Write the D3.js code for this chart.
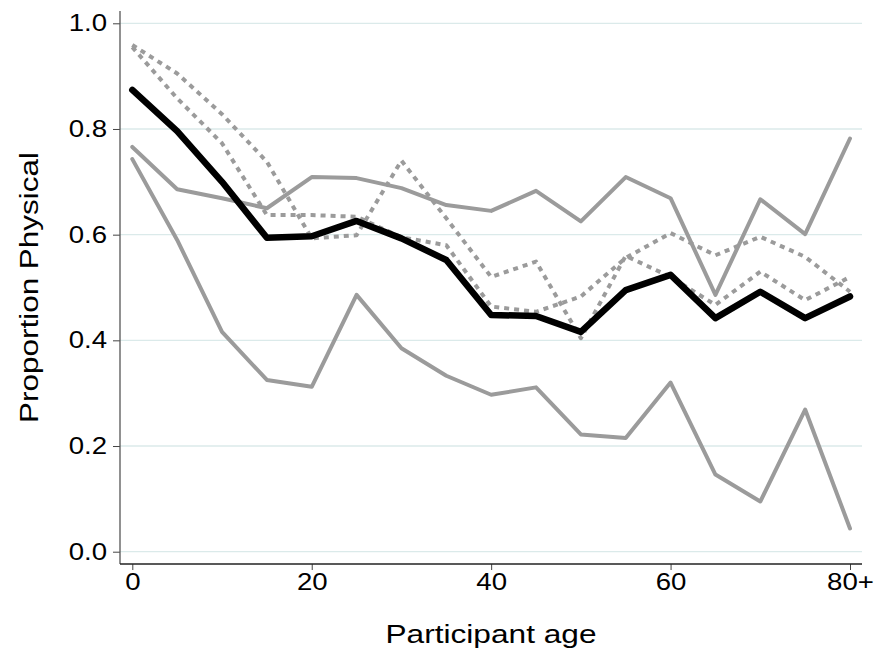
<!DOCTYPE html>
<html>
<head>
<meta charset="utf-8">
<script src="https://cdn.jsdelivr.net/npm/d3@7"></script>
<style>
  body { margin: 0; background: #fff; }
  svg { display: block; font-family: "Liberation Sans", Arial, sans-serif; }
</style>
</head>
<body>
<div id="chart"></div>
<script>
// ages (5-year groups, last one is 80+)
const ages = [0, 5, 10, 15, 20, 25, 30, 35, 40, 45, 50, 55, 60, 65, 70, 75, 80];

// overall proportion (thick black)
const overall = [0.874, 0.796, 0.700, 0.594, 0.597, 0.626, 0.593, 0.552, 0.448, 0.446, 0.416, 0.495, 0.524, 0.442, 0.492, 0.442, 0.483];
// solid grey lines
const greyHigh = [0.766, 0.686, 0.669, 0.650, 0.709, 0.707, 0.688, 0.656, 0.645, 0.683, 0.625, 0.709, 0.669, 0.486, 0.667, 0.601, 0.782];
const greyLow = [0.743, 0.590, 0.416, 0.325, 0.312, 0.486, 0.385, 0.333, 0.297, 0.311, 0.222, 0.215, 0.320, 0.146, 0.095, 0.269, 0.044];
// dashed grey lines
const dashA = [0.959, 0.905, 0.828, 0.738, 0.593, 0.599, 0.740, 0.631, 0.520, 0.549, 0.404, 0.560, 0.520, 0.467, 0.530, 0.476, 0.520];
const dashB = [0.955, 0.858, 0.773, 0.637, 0.637, 0.634, 0.595, 0.580, 0.464, 0.454, 0.483, 0.556, 0.603, 0.561, 0.596, 0.558, 0.492];

const yTicks = [0, 0.2, 0.4, 0.6, 0.8, 1.0];
const xTicks = [0, 20, 40, 60, 80];
const xTickLabels = ["0", "20", "40", "60", "80+"];

const width = 885, height = 664;
// plot box (axis lines)
const box = { left: 120, right: 862, top: 11, bottom: 564 };
// the reference text is drawn wider than plain Arial
const stretch = 1.2;

const svg = d3.select("#chart").append("svg")
    .attr("width", width)
    .attr("height", height);

const x = d3.scaleLinear().domain([0, 80]).range([132.3, 850]);
const y = d3.scaleLinear().domain([0, 1]).range([551.7, 23.3]);

// grid lines
svg.append("g")
    .selectAll("line")
    .data(yTicks)
    .join("line")
    .attr("x1", box.left)
    .attr("x2", box.right)
    .attr("y1", d => y(d))
    .attr("y2", d => y(d))
    .attr("stroke", "#dbeaea")
    .attr("stroke-width", 1.3);

// y axis
const yAxis = svg.append("g")
    .attr("transform", "translate(" + box.left + ",0)")
    .call(d3.axisLeft(y).tickValues(yTicks).tickFormat(d3.format(".1f")).tickSize(7).tickPadding(6));
yAxis.select(".domain").remove();
yAxis.selectAll("line").attr("stroke", "#444");
yAxis.selectAll("text")
    .attr("font-size", 23)
    .attr("fill", "#000")
    .attr("font-family", "Liberation Sans, Arial, sans-serif")
    .attr("x", 0)
    .attr("transform", "translate(-13,0) scale(" + stretch + ",1)");

// x axis
const xAxis = svg.append("g")
    .attr("transform", "translate(0," + box.bottom + ")")
    .call(d3.axisBottom(x).tickValues(xTicks).tickFormat((d, i) => xTickLabels[i]).tickSize(6).tickPadding(4));
xAxis.select(".domain").remove();
xAxis.selectAll("line").attr("stroke", "#444");
xAxis.selectAll("text")
    .attr("font-size", 23)
    .attr("fill", "#000")
    .attr("font-family", "Liberation Sans, Arial, sans-serif")
    .attr("transform", "scale(" + stretch + ",1)");

// axis lines
svg.append("line")
    .attr("x1", box.left).attr("x2", box.left)
    .attr("y1", box.top).attr("y2", box.bottom)
    .attr("stroke", "#555").attr("stroke-width", 1.3);
svg.append("line")
    .attr("x1", box.left).attr("x2", box.right)
    .attr("y1", box.bottom).attr("y2", box.bottom)
    .attr("stroke", "#222").attr("stroke-width", 1.3);

const line = d3.line()
    .x((d, i) => x(ages[i]))
    .y(d => y(d));

const series = [
    { values: greyHigh, color: "#9b9b9b", w: 4, dash: null },
    { values: greyLow, color: "#9b9b9b", w: 4, dash: null },
    { values: dashA, color: "#9b9b9b", w: 4, dash: "5,5" },
    { values: dashB, color: "#9b9b9b", w: 4, dash: "5,5" },
    { values: overall, color: "#000", w: 6.5, dash: null }
];

svg.append("g")
    .selectAll("path")
    .data(series)
    .join("path")
    .attr("d", d => line(d.values))
    .attr("fill", "none")
    .attr("stroke", d => d.color)
    .attr("stroke-width", d => d.w)
    .attr("stroke-dasharray", d => d.dash)
    .attr("stroke-linejoin", "round")
    .attr("stroke-linecap", d => d.dash ? "butt" : "round");

// titles
svg.append("text")
    .attr("transform", "translate(38,287.5) rotate(-90)")
    .attr("text-anchor", "middle")
    .attr("font-size", 25)
    .attr("textLength", 271)
    .attr("lengthAdjust", "spacingAndGlyphs")
    .text("Proportion Physical");

svg.append("text")
    .attr("x", 491)
    .attr("y", 643)
    .attr("text-anchor", "middle")
    .attr("font-size", 25)
    .attr("textLength", 211)
    .attr("lengthAdjust", "spacingAndGlyphs")
    .text("Participant age");
</script>
</body>
</html>
